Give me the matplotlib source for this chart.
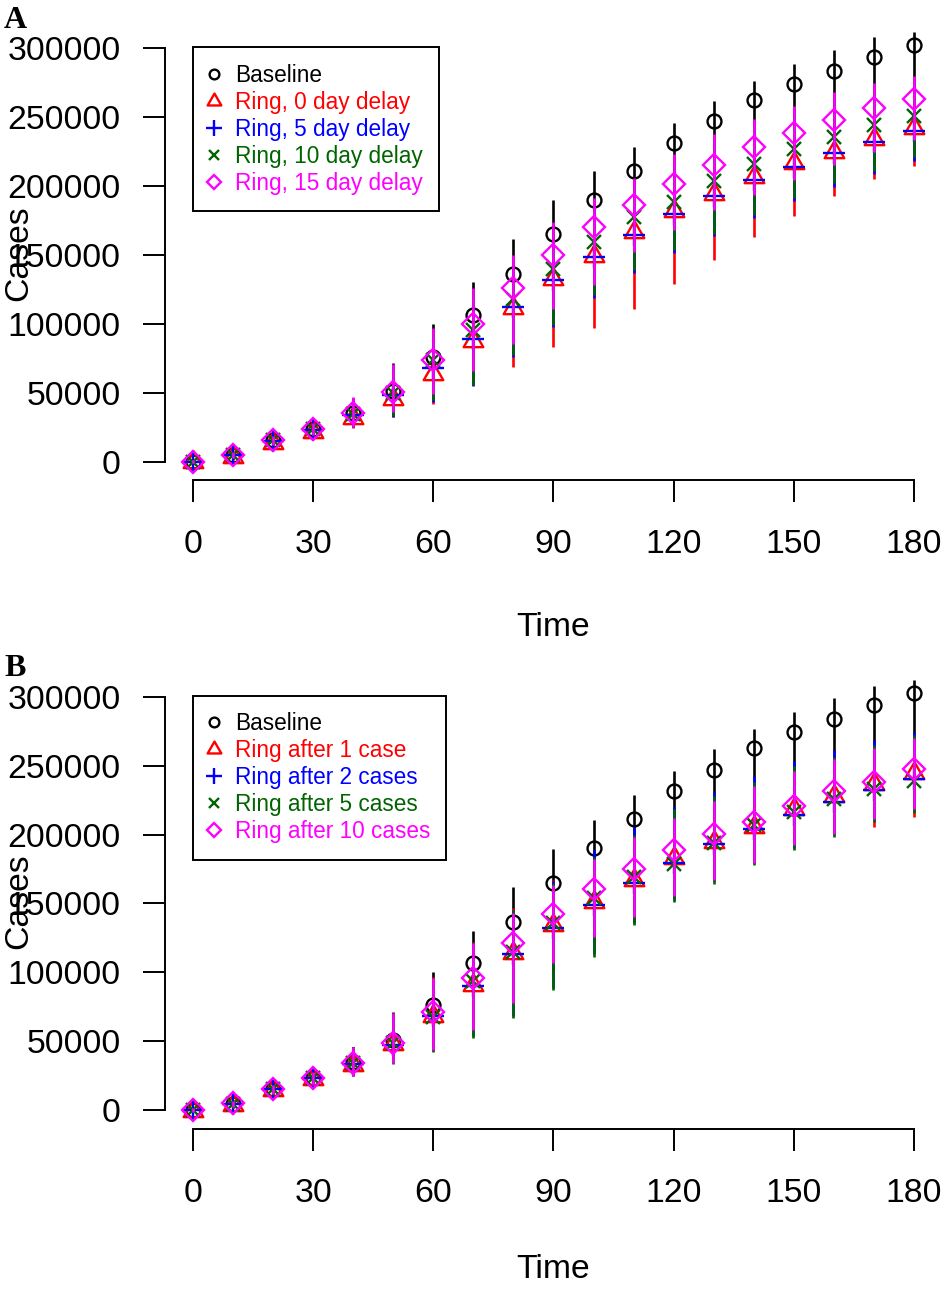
import numpy as np
import matplotlib
matplotlib.use('Agg')
import matplotlib.pyplot as plt
from matplotlib.path import Path

plt.rcParams['font.family'] = ['Liberation Sans', 'DejaVu Sans']

# ---------- data ----------

times = [0, 10, 20, 30, 40, 50, 60, 70, 80, 90, 100, 110, 120, 130, 140, 150, 160, 170, 180]

# baseline is shared by both panels
baseline = [0, 4700, 15600, 23600, 35000, 51100, 76000, 106700, 136400, 164900, 190100,
            211300, 231400, 246900, 262800, 274200, 283800, 294000, 302500]
baseline_hi = [1500, 7500, 19500, 28500, 46000, 71400, 100200, 130400, 161800, 189600, 210800,
               228700, 245900, 262100, 276600, 288700, 299100, 308000, 312100]
baseline_lo = [0, 4800, 15500, 23500, 35000, 50500, 74100, 99700, 126000, 149700, 170200,
               186000, 201700, 215500, 228200, 238700, 248100, 256500, 263000]

# panel A: ring vaccination with delay
red_a = [-500, 3500, 13500, 21500, 32000, 45500, 63600, 87300, 111400, 132500, 149400,
         166400, 182000, 194100, 206300, 216400, 224400, 234000, 241900]
red_a_lo = [-1500, 1000, 10000, 18000, 24300, 32300, 42200, 55500, 68700, 83200, 97300,
            111100, 129200, 146600, 163000, 178000, 192500, 205300, 214500]
red_a_hi = [1000, 6000, 17500, 26500, 44000, 66000, 92000, 120000, 144000, 167000, 185000,
            200000, 216000, 230000, 241000, 250000, 260000, 267000, 273000]

blue_a = [0, 4500, 15000, 23000, 34000, 48200, 68300, 89000, 112500, 131600, 148500,
          164700, 179900, 192700, 204100, 213700, 223900, 232100, 240300]
blue_a_lo = [-1200, 2000, 11500, 19000, 25000, 32500, 43500, 55000, 76000, 97500, 119000,
             137000, 151500, 163500, 176500, 189000, 199500, 209000, 218500]
blue_a_hi = [1000, 6500, 18000, 27000, 44500, 67000, 93000, 121000, 145000, 168000, 186000,
             201000, 217000, 231000, 242000, 251000, 261000, 268000, 274000]

green_a = [0, 4800, 15500, 23500, 34500, 49500, 73600, 95300, 118300, 140100, 159400,
           177500, 188400, 203400, 216200, 227100, 235500, 244000, 251200]
green_a_lo = [-1000, 2500, 12000, 19500, 25700, 33000, 44600, 55500, 77200, 99000, 120700,
              138800, 153300, 165400, 178700, 191000, 201900, 211300, 220800]
green_a_hi = [1000, 6500, 18000, 27000, 45000, 68000, 94000, 122000, 146000, 169000, 187000,
              202000, 218000, 232000, 243000, 252000, 262000, 269000, 275000]

magenta_a = [0, 4800, 15500, 23500, 35000, 50500, 74100, 99700, 126000, 149700, 170200,
             186000, 201700, 215500, 228200, 238700, 248100, 256500, 263000]
magenta_a_lo = [-1000, 2500, 12000, 19500, 25200, 36100, 48900, 65800, 85700, 111100, 128000,
                152100, 168300, 182800, 193200, 204100, 215000, 224400, 233100]
magenta_a_hi = [1500, 7000, 19000, 28000, 47000, 70700, 97300, 126300, 149700, 173900, 191500,
                206000, 223400, 237900, 248800, 258000, 268100, 274600, 280200]

# panel B: ring vaccination after n cases
red_b = [-500, 4000, 14500, 22500, 33000, 48000, 68600, 91000, 113900, 134400, 151200,
         166900, 182800, 194300, 205700, 218700, 228300, 236800, 245000]
red_b_lo = [-1500, 1500, 11000, 18500, 25000, 34700, 42800, 59000, 77800, 99000, 119900,
            136800, 153900, 166900, 179400, 192200, 200900, 205400, 212600]
red_b_hi = [1500, 7000, 18500, 28000, 46000, 70800, 96600, 122300, 146500, 166900, 183300,
            198200, 212600, 224700, 236800, 247600, 256000, 264400, 271700]

blue_b = [0, 4800, 15300, 23300, 33500, 47000, 68600, 89800, 113200, 132400, 148800,
          164900, 179700, 192900, 204300, 213900, 224000, 232400, 240400]
blue_b_lo = [0, 3000, 12500, 20000, 26500, 34700, 43600, 54000, 68500, 88900, 113000,
             135900, 152700, 166000, 179200, 190600, 199700, 210500, 217500]
blue_b_hi = [1500, 7000, 18000, 27500, 45500, 70000, 95500, 121000, 145500, 166000, 188600,
             205400, 219900, 230700, 242800, 253600, 261300, 268600, 274600]

green_b = [0, 4800, 15300, 23300, 34000, 48500, 67500, 94100, 115100, 135600, 153700,
           169300, 179000, 193600, 206600, 216200, 225900, 233200, 239100]
green_b_lo = [-1500, 1500, 11000, 18500, 25000, 33200, 42100, 52500, 67000, 87400, 111500,
              134400, 151200, 164500, 177700, 189100, 198200, 209000, 216000]
green_b_hi = [1500, 7000, 18500, 28000, 45500, 70000, 95000, 121200, 145000, 165000, 184000,
              200000, 218700, 228300, 238000, 250000, 256000, 265000, 272000]

magenta_b = [0, 5000, 15500, 23500, 34000, 49100, 71300, 95900, 121200, 142300, 160400,
             175300, 188600, 200100, 209000, 221100, 231400, 238400, 247600]
magenta_b_lo = [-1500, 2000, 11500, 18500, 25000, 34500, 43400, 58500, 77800, 106700, 125900,
                140400, 155300, 166900, 179400, 192200, 200600, 211500, 218700]
magenta_b_hi = [1500, 7000, 18500, 28000, 45500, 70500, 95900, 121200, 142800, 163300, 182600,
                198200, 211700, 224700, 235500, 246400, 254800, 263200, 270400]

labels_a = ['Baseline', 'Ring, 0 day delay', 'Ring, 5 day delay',
            'Ring, 10 day delay', 'Ring, 15 day delay']
labels_b = ['Baseline', 'Ring after 1 case', 'Ring after 2 cases',
            'Ring after 5 cases', 'Ring after 10 cases']

# ---------- styles ----------

colors = ['black', '#FF0000', '#0000FF', '#006400', '#FF00FF']
# R style triangle (centroid on the point)
tri = Path([(0, 1.555), (1.347, -0.778), (-1.347, -0.778), (0, 1.555)],
           [Path.MOVETO, Path.LINETO, Path.LINETO, Path.CLOSEPOLY])
markers = ['o', tri, '+', 'x', 'D']
sizes = [10.0, 16.3, 15.5, 10.4, 10.8]

FS = 24.3
W, H = 945, 1289


def draw_panel(ax, series, labels, time_y):
    for i, (mid, lo, hi) in enumerate(series):
        z = 2 + i
        ax.vlines(times, lo, hi, colors=colors[i], lw=1.9, zorder=z)
        ax.plot(times, mid, ls='none', marker=markers[i], ms=sizes[i], mfc='none',
                mec=colors[i], mew=1.7, zorder=z + 0.5, label=labels[i])

    ax.set_xlim(-7, 187)
    ax.set_ylim(-13280, 316900)
    for s in ['top', 'right']:
        ax.spines[s].set_visible(False)
    ax.spines['left'].set_bounds(0, 300000)
    ax.spines['bottom'].set_bounds(0, 180)
    for s in ['left', 'bottom']:
        ax.spines[s].set_linewidth(1.4)
    ax.set_xticks(range(0, 181, 30))
    yt = list(range(0, 300001, 50000))
    ax.set_yticks(yt, [str(v) for v in yt])
    ax.tick_params(length=15.8, width=1.4, labelsize=FS)
    ax.tick_params(axis='x', pad=19.5)
    ax.tick_params(axis='y', pad=16)

    ax.set_xlabel('Time', fontsize=FS, va='center')
    ax.xaxis.set_label_coords((553.5 - 165) / 777, -time_y / 455)
    ax.set_ylabel('Cases', fontsize=FS, va='center')
    ax.yaxis.set_label_coords((19 - 165) / 777, (480 - 253) / 455)

    leg = ax.legend(loc='upper left', bbox_to_anchor=(0.036, 0.951), borderaxespad=0,
                    fontsize=16.3, markerscale=0.7, handlelength=0.4, handletextpad=0.72,
                    borderpad=0.72, labelspacing=0.18, fancybox=False, edgecolor='black',
                    framealpha=1)
    leg.get_frame().set_linewidth(1.4)
    for t, c in zip(leg.get_texts(), colors):
        t.set_color(c)


fig = plt.figure(figsize=(W / 100, H / 100), dpi=100)
ax_a = fig.add_axes([165 / W, (H - 480) / H, 777 / W, 455 / H])
ax_b = fig.add_axes([165 / W, (H - 1128.5) / H, 777 / W, 455 / H])

draw_panel(ax_a, [(baseline, baseline_lo, baseline_hi),
                  (red_a, red_a_lo, red_a_hi),
                  (blue_a, blue_a_lo, blue_a_hi),
                  (green_a, green_a_lo, green_a_hi),
                  (magenta_a, magenta_a_lo, magenta_a_hi)], labels_a, 147)
draw_panel(ax_b, [(baseline, baseline_lo, baseline_hi),
                  (red_b, red_b_lo, red_b_hi),
                  (blue_b, blue_b_lo, blue_b_hi),
                  (green_b, green_b_lo, green_b_hi),
                  (magenta_b, magenta_b_lo, magenta_b_hi)], labels_b, 141)

fig.text(4 / W, 1 - 28 / H, 'A', family='Liberation Serif', weight='bold', fontsize=23,
         ha='left', va='baseline')
fig.text(4 / W, 1 - 676.5 / H, 'B', family='Liberation Serif', weight='bold', fontsize=23,
         ha='left', va='baseline')

fig.savefig('out.png', dpi=100)
